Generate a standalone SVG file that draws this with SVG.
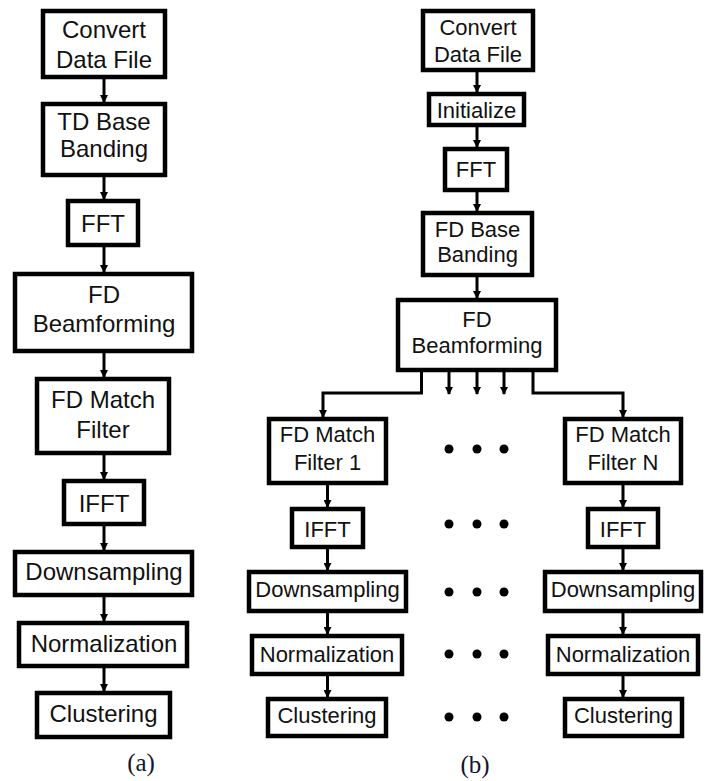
<svg xmlns="http://www.w3.org/2000/svg" width="708" height="781" viewBox="0 0 708 781">
<style>
rect.b{fill:#fff;stroke:#000;stroke-width:4.5}
text{font-family:"Liberation Sans",Arial,sans-serif;fill:#111;text-anchor:middle}
.a text{font-size:24px}
.r text{font-size:22px}
.lab{font-family:"Liberation Serif","Times New Roman",serif;font-size:25px;fill:#14142a}
.c line,.c polyline{stroke:#000;stroke-width:3;fill:none}
.c line,.c polyline{marker-end:url(#ah)}
.dots circle{fill:#000}
</style>
<defs>
<marker id="ah" viewBox="0 0 8 8" refX="7" refY="4" markerWidth="8" markerHeight="8" markerUnits="userSpaceOnUse" orient="auto">
<path d="M0,0 L8,4 L0,8 z" fill="#000"/>
</marker>
</defs>
<g id="connectors" class="c">
<line x1="104" y1="79" x2="104" y2="102"/>
<line x1="104" y1="177" x2="104" y2="199"/>
<line x1="104" y1="247" x2="104" y2="272"/>
<line x1="104" y1="353" x2="104" y2="377"/>
<line x1="104" y1="455" x2="104" y2="479"/>
<line x1="104" y1="526" x2="104" y2="550"/>
<line x1="104" y1="597" x2="104" y2="621"/>
<line x1="104" y1="668" x2="104" y2="691"/>
<line x1="477" y1="72" x2="477" y2="92"/>
<line x1="477" y1="127" x2="477" y2="147"/>
<line x1="477" y1="192" x2="477" y2="211"/>
<line x1="477" y1="277" x2="477" y2="298"/>
<polyline points="421.5,372 421.5,393 323,393 323,417"/>
<polyline points="533,372 533,393 623,393 623,417"/>
<line x1="449" y1="372" x2="449" y2="394"/>
<line x1="477" y1="372" x2="477" y2="394"/>
<line x1="504" y1="372" x2="504" y2="394"/>
<line x1="327.5" y1="485" x2="327.5" y2="507"/>
<line x1="327.5" y1="549" x2="327.5" y2="570"/>
<line x1="327.5" y1="613" x2="327.5" y2="634"/>
<line x1="327.5" y1="676" x2="327.5" y2="697"/>
<line x1="623" y1="485" x2="623" y2="507"/>
<line x1="623" y1="549" x2="623" y2="570"/>
<line x1="623" y1="613" x2="623" y2="634"/>
<line x1="623" y1="676" x2="623" y2="697"/>
</g>
<g class="a">
<g id="a_convert"><rect class="b" x="43" y="11" width="122" height="66"/><text x="104" y="38">Convert</text><text x="104" y="68">Data File</text></g>
<g id="a_tdbase"><rect class="b" x="43" y="104" width="122" height="71"/><text x="104" y="130">TD Base</text><text x="104" y="157">Banding</text></g>
<g id="a_fft"><rect class="b" x="68" y="201" width="70" height="44"/><text x="103" y="232">FFT</text></g>
<g id="a_beam"><rect class="b" x="15" y="274" width="177" height="77"/><text x="104" y="303">FD</text><text x="104" y="332">Beamforming</text></g>
<g id="a_match"><rect class="b" x="37" y="379" width="132" height="74"/><text x="103" y="408">FD Match</text><text x="103" y="438">Filter</text></g>
<g id="a_ifft"><rect class="b" x="64" y="481" width="80" height="43"/><text x="104" y="512">IFFT</text></g>
<g id="a_down"><rect class="b" x="15" y="552" width="177" height="43"/><text x="104" y="580">Downsampling</text></g>
<g id="a_norm"><rect class="b" x="19" y="623" width="168" height="43"/><text x="104" y="652">Normalization</text></g>
<g id="a_clust"><rect class="b" x="37" y="693" width="133" height="44"/><text x="103.5" y="722">Clustering</text></g>
</g>
<g class="r">
<g id="b_convert"><rect class="b" x="423" y="11" width="110" height="59"/><text x="478" y="35">Convert</text><text x="478" y="62">Data File</text></g>
<g id="b_init"><rect class="b" x="429" y="94" width="95" height="31"/><text x="476.5" y="118">Initialize</text></g>
<g id="b_fft"><rect class="b" x="445" y="149" width="62" height="41"/><text x="476" y="177">FFT</text></g>
<g id="b_fdbase"><rect class="b" x="423" y="213" width="109" height="62"/><text x="477.5" y="237">FD Base</text><text x="477.5" y="262">Banding</text></g>
<g id="b_beam"><rect class="b" x="398" y="300" width="158" height="70"/><text x="477" y="327">FD</text><text x="477" y="353">Beamforming</text></g>
<g id="b_match1"><rect class="b" x="269" y="419" width="117" height="64"/><text x="327.5" y="442">FD Match</text><text x="327.5" y="470">Filter 1</text></g>
<g id="b_matchN"><rect class="b" x="565" y="419" width="116" height="64"/><text x="623" y="442">FD Match</text><text x="623" y="470">Filter N</text></g>
<g id="b_ifft1"><rect class="b" x="292" y="509" width="71" height="38"/><text x="327.5" y="537">IFFT</text></g>
<g id="b_ifftN"><rect class="b" x="588" y="509" width="70" height="38"/><text x="623" y="537">IFFT</text></g>
<g id="b_down1"><rect class="b" x="249" y="572" width="157" height="39"/><text x="327.5" y="597">Downsampling</text></g>
<g id="b_downN"><rect class="b" x="545" y="572" width="156" height="39"/><text x="623" y="597">Downsampling</text></g>
<g id="b_norm1"><rect class="b" x="252" y="636" width="150" height="38"/><text x="327" y="662">Normalization</text></g>
<g id="b_normN"><rect class="b" x="548" y="636" width="150" height="38"/><text x="623" y="662">Normalization</text></g>
<g id="b_clust1"><rect class="b" x="268" y="699" width="118" height="37"/><text x="327" y="723">Clustering</text></g>
<g id="b_clustN"><rect class="b" x="565" y="699" width="117" height="37"/><text x="623.5" y="723">Clustering</text></g>
</g>
<g id="dots" class="dots">
<circle cx="449" cy="449" r="4.5"/><circle cx="477" cy="449" r="4.5"/><circle cx="504" cy="449" r="4.5"/>
<circle cx="449" cy="524" r="4.5"/><circle cx="477" cy="524" r="4.5"/><circle cx="504" cy="524" r="4.5"/>
<circle cx="449" cy="592" r="4.5"/><circle cx="477" cy="592" r="4.5"/><circle cx="504" cy="592" r="4.5"/>
<circle cx="449" cy="654" r="4.5"/><circle cx="477" cy="654" r="4.5"/><circle cx="504" cy="654" r="4.5"/>
<circle cx="449" cy="717" r="4.5"/><circle cx="477" cy="717" r="4.5"/><circle cx="504" cy="717" r="4.5"/>
</g>
<text id="label_a" class="lab" x="141" y="771">(a)</text>
<text id="label_b" class="lab" x="475" y="773">(b)</text>
</svg>
